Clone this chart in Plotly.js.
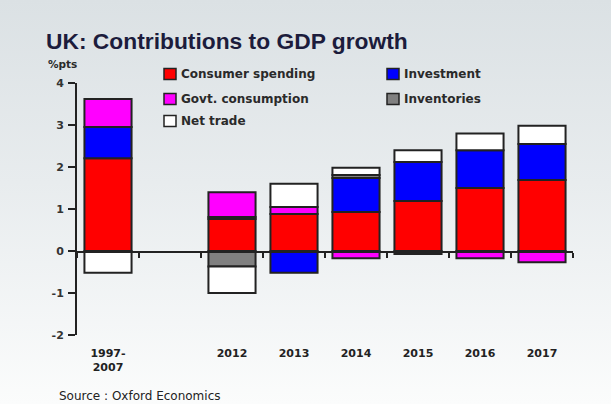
<!DOCTYPE html>
<html>
<head>
<meta charset="utf-8">
<script src="https://cdn.plot.ly/plotly-3.0.1.min.js"></script>
<style>
  html, body { margin: 0; padding: 0; }
  body { width: 611px; height: 404px; background: linear-gradient(180deg, #dbe1e4 0%, #e8ecee 45%, #fbfcfc 100%); overflow: hidden; }
  #chart { width: 611px; height: 404px; }
</style>
</head>
<body>
<div id="chart"></div>
<script>
// ---- data ----
const categories = ["1997-<br>2007", " ", "2012", "2013", "2014", "2015", "2016", "2017"];
const consumer    = [2.21, null, 0.76, 0.88, 0.93, 1.19, 1.50, 1.69];
const investment  = [0.74, null, 0.05, -0.52, 0.81, 0.93, 0.90, 0.86];
const govt        = [0.67, null, 0.59, 0.17, -0.17, -0.07, -0.17, -0.27];
const inventories = [null, null, -0.37, null, 0.07, null, null, null];
const netTrade    = [-0.52, null, -0.63, 0.55, 0.17, 0.28, 0.40, 0.43];
const seriesNames = ["Consumer spending", "Investment", "Govt. consumption", "Inventories", "Net trade"];
const seriesColors = ["#ff0000", "#0000ff", "#ff00ff", "#808080", "#ffffff"];
const yTicks = [-2, -1, 0, 1, 2, 3, 4];

// ---- layout helpers ----
const W = 611, H = 404;
const M = { l: 77, r: 38, t: 83, b: 69 };
const pw = W - M.l - M.r, ph = H - M.t - M.b;
const px = x => (x - M.l) / pw;
const py = y => (H - M.b - y) / ph;

const seriesValues = [consumer, investment, govt, inventories, netTrade];
const traces = seriesValues.map((vals, i) => ({
  type: "bar",
  name: seriesNames[i],
  x: categories,
  y: vals,
  width: 0.76,
  marker: { color: seriesColors[i], line: { color: "#222222", width: 2 } },
  showlegend: false,
  hoverinfo: "skip"
}));

// manual legend (two columns)
const legendPos = [
  { x: 164, y: 74 }, { x: 387, y: 74 },
  { x: 164, y: 99 }, { x: 387, y: 99 },
  { x: 164, y: 121 }
];
const shapes = [], annotations = [];
seriesNames.forEach((n, i) => {
  const p = legendPos[i];
  shapes.push({
    type: "rect", xref: "paper", yref: "paper",
    x0: px(p.x), x1: px(p.x + 12), y0: py(p.y + 5.5), y1: py(p.y - 5.5),
    fillcolor: seriesColors[i], line: { color: "#222222", width: 1.5 }, layer: "above"
  });
  annotations.push({
    xref: "paper", yref: "paper", x: px(p.x + 15), y: py(p.y),
    xanchor: "left", yanchor: "middle", showarrow: false,
    text: n, font: { family: "DejaVu Sans", size: 12, color: "#2a2a2a", weight: "bold" }
  });
});
annotations.push({
  xref: "paper", yref: "paper", x: px(46), y: py(64),
  xanchor: "left", yanchor: "middle", showarrow: false,
  text: "%pts", font: { family: "DejaVu Sans", size: 10.5, color: "#2a2a2a", weight: "bold" }
});
annotations.push({
  xref: "paper", yref: "paper", x: px(57), y: py(396),
  xanchor: "left", yanchor: "middle", showarrow: false,
  text: "Source : Oxford Economics", font: { family: "DejaVu Sans", size: 12, color: "#222222" }
});

const layout = {
  width: W, height: H,
  margin: M,
  paper_bgcolor: "rgba(0,0,0,0)",
  plot_bgcolor: "rgba(0,0,0,0)",
  barmode: "relative",
  title: {
    text: "UK: Contributions to GDP growth",
    x: 46 / W, xanchor: "left", xref: "container",
    y: 1 - 41 / H, yanchor: "middle", yref: "container",
    font: { family: "Liberation Sans", size: 22.8, color: "#1c1c3c", weight: "bold" }
  },
  xaxis: {
    type: "category", categoryorder: "array", categoryarray: categories,
    range: [-0.5, 7.5],
    showline: false, showgrid: false, zeroline: false, ticks: "",
    ticklabelstandoff: 10,
    tickfont: { family: "DejaVu Sans", size: 11, color: "#222222", weight: "bold" }
  },
  xaxis2: {
    type: "category", categoryorder: "array", categoryarray: categories,
    range: [-0.5, 7.5], overlaying: "x", anchor: "free", position: py(252),
    side: "bottom", tickson: "boundaries", ticks: "outside", ticklen: 5, tickwidth: 2, tickcolor: "#222222",
    showticklabels: false, showline: true, linecolor: "#222222", linewidth: 2, showgrid: false, zeroline: false
  },
  yaxis: {
    range: [-2, 4], tickvals: yTicks, ticktext: yTicks.map(String),
    showline: true, linecolor: "#222222", linewidth: 2,
    ticks: "outside", ticklen: 7, tickwidth: 2, tickcolor: "#222222",
    showgrid: false, zeroline: false, ticklabelstandoff: 2,
    tickfont: { family: "DejaVu Sans", size: 11, color: "#333333", weight: "bold" }
  },
  shapes: shapes,
  annotations: annotations
};

// invisible helper trace to make the zero-line axis render
traces.push({ type: "bar", x: categories, y: categories.map(() => null), xaxis: "x2", yaxis: "y", showlegend: false, hoverinfo: "skip" });

Plotly.newPlot("chart", traces, layout, { staticPlot: true, displayModeBar: false });
</script>
</body>
</html>
